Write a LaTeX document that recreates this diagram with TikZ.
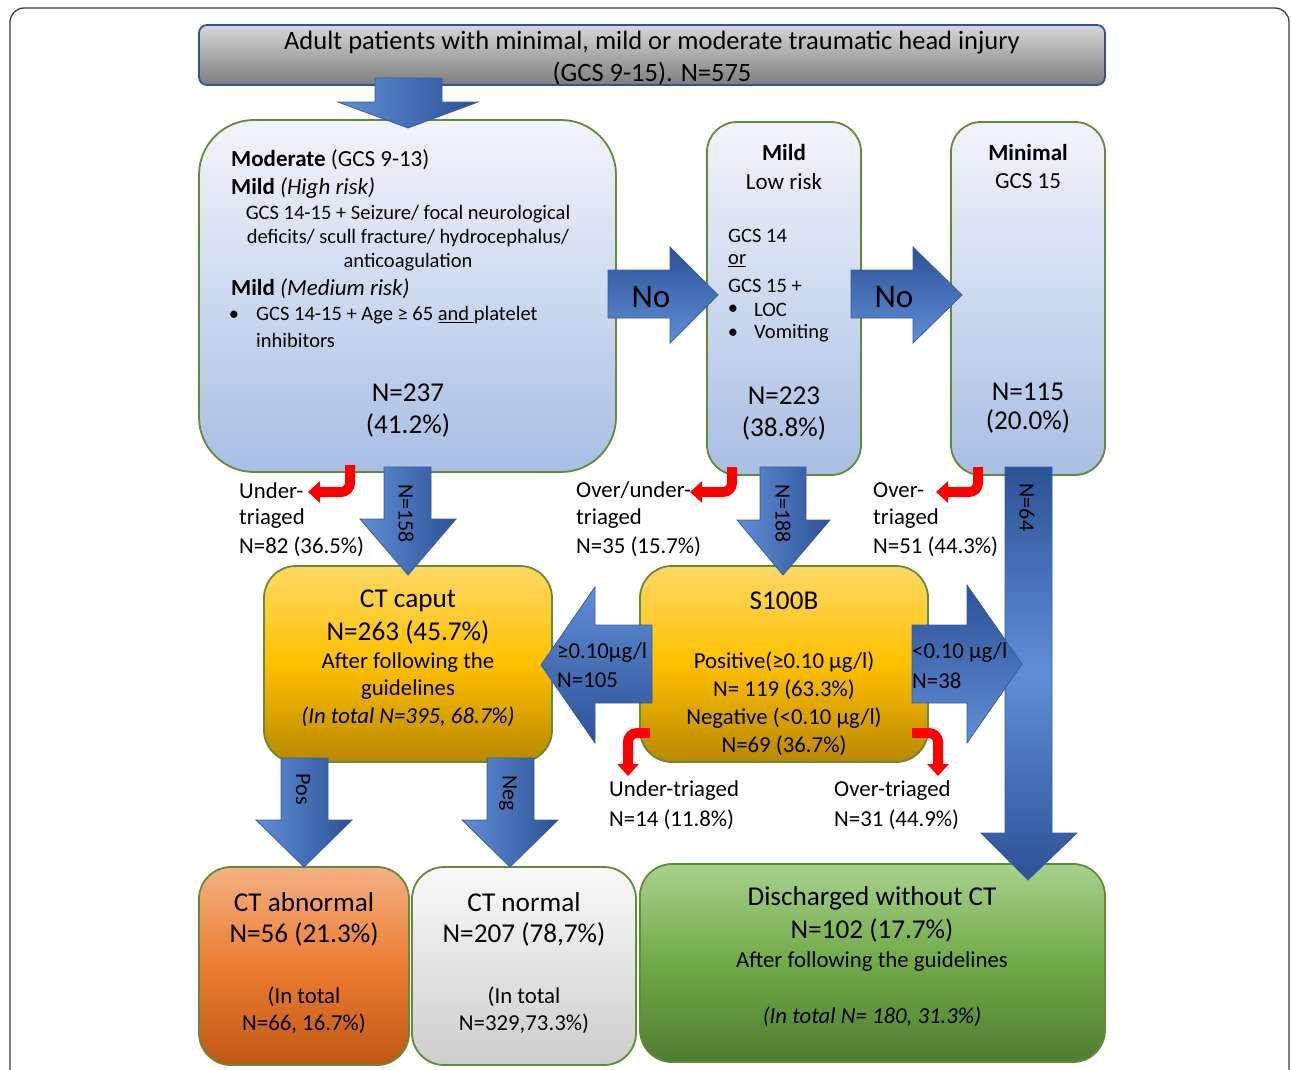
\documentclass[tikz,border=0pt]{standalone}
\usepackage{fontspec}
\setmainfont{Carlito}
\usetikzlibrary{arrows.meta}

\definecolor{frameC}{RGB}{60,60,60}
\definecolor{boxE}{RGB}{98,140,55}
\definecolor{banE}{RGB}{47,85,151}
\definecolor{banT}{RGB}{215,215,215}
\definecolor{banB}{RGB}{125,125,125}
\definecolor{bluT}{RGB}{242,245,251}
\definecolor{bluB}{RGB}{168,190,228}
\definecolor{ylwT}{RGB}{255,217,102}
\definecolor{ylwM}{RGB}{255,192,0}
\definecolor{ylwB}{RGB}{184,136,0}
\definecolor{orgT}{RGB}{244,177,131}
\definecolor{orgM}{RGB}{237,125,49}
\definecolor{orgB}{RGB}{190,88,20}
\definecolor{gryT}{RGB}{250,250,250}
\definecolor{gryB}{RGB}{205,205,205}
\definecolor{grnT}{RGB}{169,209,142}
\definecolor{grnM}{RGB}{112,170,70}
\definecolor{grnB}{RGB}{80,125,50}
\definecolor{bluL}{RGB}{96,142,214}
\definecolor{bluD}{RGB}{44,82,150}
\definecolor{bluE}{RGB}{56,94,160}
\definecolor{redA}{RGB}{255,0,0}

\newcommand{\fsBan}{\fontsize{26.5}{31}\selectfont}
\newcommand{\fsHead}{\fontsize{23}{27.5}\selectfont}
\newcommand{\fsBody}{\fontsize{20.5}{24.5}\selectfont}
\newcommand{\fsN}{\fontsize{27.2}{32}\selectfont}
\newcommand{\fsLab}{\fontsize{22.8}{27}\selectfont}
\newcommand{\fsNo}{\fontsize{33}{38}\selectfont}
\newcommand{\fsRot}{\fontsize{22}{26}\selectfont}

\begin{document}
\begin{tikzpicture}[x=1pt,y=1pt,yscale=-1,
  box/.style={draw=boxE, line width=1.8pt, inner sep=0pt},
  bluebox/.style={box, top color=bluT, bottom color=bluB},
  ylwbox/.style={box, top color=ylwT, bottom color=ylwB, middle color=ylwM},
  blkarr/.style={draw=bluE, line width=0.8pt},
  redarr/.style={draw=redA, line width=10pt, rounded corners=9pt, -{Triangle[length=12pt,width=21pt]}},
  txt/.style={inner sep=0pt}]
\useasboundingbox (0,0) rectangle (1292,1069);

%Shape: Frame
\draw [frameC, line width=1.3pt, rounded corners=14pt] (10,1100) -- (10,8) -- (1289,8) -- (1289,1100);

%Shape: Banner
\node [draw=banE, line width=1.8pt, top color=banT, bottom color=banB, rounded corners=8pt, minimum width=906pt, minimum height=60pt] (banner) at (652,55) {};

%Shape: Rounded Rectangles
\node [bluebox, rounded corners=55pt, minimum width=417pt, minimum height=352pt] (moder) at (407.5,296) {};
\node [bluebox, rounded corners=30pt, minimum width=154pt, minimum height=353pt] (mild) at (784,298.5) {};
\node [bluebox, rounded corners=30pt, minimum width=154pt, minimum height=353pt] (minim) at (1028,298.5) {};
\node [ylwbox, rounded corners=32pt, minimum width=288pt, minimum height=196pt] (ctcap) at (408,664) {};
\node [ylwbox, rounded corners=32pt, minimum width=288pt, minimum height=196pt] (sbox) at (784,664) {};
\node [box, top color=orgT, bottom color=orgB, middle color=orgM, rounded corners=32pt, minimum width=210pt, minimum height=198pt] (ctab) at (304,966) {};
\node [box, top color=gryT, bottom color=gryB, rounded corners=32pt, minimum width=224pt, minimum height=198pt] (ctno) at (524,966) {};
\node [box, top color=grnT, bottom color=grnB, middle color=grnM, rounded corners=32pt, minimum width=465pt, minimum height=198pt] (disch) at (872.5,963) {};

%Shape: Down Arrows
\draw [blkarr, left color=bluL, right color=bluD] (375,78) -- (442,78) -- (442,102) -- (478,102) -- (408,128) -- (338,102) -- (375,102) -- cycle ;
\draw [blkarr, left color=bluL, right color=bluD] (384,467) -- (431,467) -- (431,519) -- (456,519) -- (408,575) -- (360,519) -- (384,519) -- cycle ;
\draw [blkarr, left color=bluL, right color=bluD] (760,467) -- (806,467) -- (806,520) -- (830,520) -- (783,575) -- (737,520) -- (760,520) -- cycle ;
\draw [blkarr, left color=bluL, right color=bluD] (281,758) -- (328,758) -- (328,820) -- (352,820) -- (304,867) -- (256,820) -- (281,820) -- cycle ;
\draw [blkarr, left color=bluL, right color=bluD] (487,758) -- (534,758) -- (534,820) -- (558,820) -- (510,867) -- (462,820) -- (487,820) -- cycle ;
\draw [blkarr, top color=bluD, bottom color=bluD, middle color=bluL] (1005,467) -- (1052,467) -- (1052,833) -- (1077,833) -- (1028,880) -- (981,833) -- (1005,833) -- cycle ;

%Shape: Side Arrows
\draw [blkarr, top color=bluD, bottom color=bluL] (608,270) -- (670,270) -- (670,247) -- (718,295) -- (670,343) -- (670,318) -- (608,318) -- cycle ;
\draw [blkarr, top color=bluD, bottom color=bluL] (851,270) -- (913,270) -- (913,247) -- (962,295) -- (913,343) -- (913,318) -- (851,318) -- cycle ;
\draw [blkarr, top color=bluL, bottom color=bluD] (652,625) -- (595,625) -- (595,587) -- (541,665) -- (595,743) -- (595,703) -- (652,703) -- cycle ;
\draw [blkarr, top color=bluD, bottom color=bluL] (912,625) -- (967,625) -- (967,585) -- (1022,664) -- (967,743) -- (967,703) -- (912,703) -- cycle ;

%Curve Lines: red bends
\coordinate (ra1) at (350,465); \coordinate (rb1) at (308,492);
\coordinate (ra2) at (732,467); \coordinate (rb2) at (690,492);
\coordinate (ra3) at (978,467); \coordinate (rb3) at (936,492);
\coordinate (ra4) at (650,733); \coordinate (rb4) at (628,776);
\coordinate (ra5) at (912,733); \coordinate (rb5) at (938,776);
\draw [redarr] (ra1) |- (rb1);
\draw [redarr] (ra2) |- (rb2);
\draw [redarr] (ra3) |- (rb3);
\draw [redarr] (ra4) -| (rb4);
\draw [redarr] (ra5) -| (rb5);

\begin{scope}[shift={(0,1.5)}]
% Text Node
\node [txt, font=\fsBan] (ban1) at (652,41) {Adult patients with minimal, mild or moderate traumatic head injury};
\node [txt, font=\fsBan] (ban2) at (652,72) {(GCS 9-15). N=575};

% Text Node
\node [txt, anchor=west, font=\fsHead] (mod1) at (231,158) {\textbf{Moderate} (GCS 9-13)};
\node [txt, anchor=west, font=\fsHead] (mod2) at (231,187) {\textbf{Mild} \textit{(High risk)}};
\node [txt, font=\fsBody] (mod3) at (408,213) {GCS 14-15 + Seizure/ focal neurological};
\node [txt, font=\fsBody] (mod4) at (408,237) {deficits/ scull fracture/ hydrocephalus/};
\node [txt, font=\fsBody] (mod5) at (408,261) {anticoagulation};
\node [txt, anchor=west, font=\fsHead] (mod6) at (231,287) {\textbf{Mild} \textit{(Medium risk)}};
\node [txt, font=\fsBody] (mod7b) at (234,314) {\textbullet};
\node [txt, anchor=west, font=\fsBody] (mod7) at (256,314) {GCS 14-15 + Age ≥ 65 \underline{and }platelet};
\node [txt, anchor=west, font=\fsBody] (mod8) at (256,339) {inhibitors};
\node [txt, font=\fsN] (mod9) at (408,391) {N=237};
\node [txt, font=\fsN] (mod10) at (408,424) {(41.2\%)};

% Text Node
\node [txt, font=\fsHead] (mil1) at (784,151) {\textbf{Mild}};
\node [txt, font=\fsHead] (mil2) at (784,180) {Low risk};
\node [txt, anchor=west, font=\fsBody] (mil3) at (728,234) {GCS 14};
\node [txt, anchor=west, font=\fsBody] (mil4) at (728,259) {\underline{or}};
\node [txt, anchor=west, font=\fsBody] (mil5) at (728,284) {GCS 15 +};
\node [txt, font=\fsBody] (mil6b) at (733,308) {\textbullet};
\node [txt, anchor=west, font=\fsBody] (mil6) at (754,308) {LOC};
\node [txt, font=\fsBody] (mil7b) at (733,332) {\textbullet};
\node [txt, anchor=west, font=\fsBody] (mil7) at (754,332) {Vomiting};
\node [txt, font=\fsN] (mil8) at (784,394) {N=223};
\node [txt, font=\fsN] (mil9) at (784,427) {(38.8\%)};

% Text Node
\node [txt, font=\fsHead] (min1) at (1028,151) {\textbf{Minimal}};
\node [txt, font=\fsHead] (min2) at (1028,180) {GCS 15};
\node [txt, font=\fsN] (min3) at (1028,390) {N=115};
\node [txt, font=\fsN] (min4) at (1028,420) {(20.0\%)};

% Text Node
\node [txt, font=\fsNo] (no1) at (651,296) {No};
\node [txt, font=\fsNo] (no2) at (894,296) {No};

% Text Node
\node [txt, font=\fsRot, rotate=-90] (n158) at (406,512) {N=158};
\node [txt, font=\fsRot, rotate=-90] (n188) at (783,512) {N=188};
\node [txt, font=\fsRot, rotate=-90] (n64) at (1027,506) {N=64};
\node [txt, font=\fsRot, rotate=-90] (pos) at (303,788) {Pos};
\node [txt, font=\fsRot, rotate=-90] (neg) at (508,792) {Neg};

% Text Node
\node [txt, anchor=west, font=\fsLab] (ut1) at (239,489) {Under-};
\node [txt, anchor=west, font=\fsLab] (ut2) at (239,517) {triaged};
\node [txt, anchor=west, font=\fsLab] (ut3) at (239,545) {N=82 (36.5\%)};
\node [txt, anchor=west, font=\fsLab] (ou1) at (576,489) {Over/under-};
\node [txt, anchor=west, font=\fsLab] (ou2) at (576,517) {triaged};
\node [txt, anchor=west, font=\fsLab] (ou3) at (576,545) {N=35 (15.7\%)};
\node [txt, anchor=west, font=\fsLab] (ot1) at (873,489) {Over-};
\node [txt, anchor=west, font=\fsLab] (ot2) at (873,517) {triaged};
\node [txt, anchor=west, font=\fsLab] (ot3) at (873,545) {N=51 (44.3\%)};

% Text Node
\node [txt, font=\fsN] (cc1) at (408,599) {CT caput};
\node [txt, font=\fsN] (cc2) at (408,631) {N=263 (45.7\%)};
\node [txt, font=\fsLab] (cc3) at (408,661) {After following the};
\node [txt, font=\fsLab] (cc4) at (408,688) {guidelines};
\node [txt, font=\fsLab\itshape] (cc5) at (408,715) {(In total N=395, 68.7\%)};

% Text Node
\node [txt, font=\fsN] (sb1) at (784,599) {S100B};
\node [txt, font=\fsLab] (sb2) at (784,661) {Positive(≥0.10 µg/l)};
\node [txt, font=\fsLab] (sb3) at (784,688) {N= 119 (63.3\%)};
\node [txt, font=\fsLab] (sb4) at (784,717) {Negative (<0.10 µg/l)};
\node [txt, font=\fsLab] (sb5) at (784,744) {N=69 (36.7\%)};

% Text Node
\node [txt, anchor=west, font=\fsLab] (ge1) at (557,651) {≥0.10µg/l};
\node [txt, anchor=west, font=\fsLab] (ge2) at (557,679) {N=105};
\node [txt, anchor=west, font=\fsLab] (lt1) at (912,651) {<0.10 µg/l};
\node [txt, anchor=west, font=\fsLab] (lt2) at (912,679) {N=38};
\node [txt, anchor=west, font=\fsLab] (su1) at (609,789) {Under-triaged};
\node [txt, anchor=west, font=\fsLab] (su2) at (609,818) {N=14 (11.8\%)};
\node [txt, anchor=west, font=\fsLab] (so1) at (834,789) {Over-triaged};
\node [txt, anchor=west, font=\fsLab] (so2) at (834,818) {N=31 (44.9\%)};

% Text Node
\node [txt, font=\fsN] (ab1) at (304,901) {CT abnormal};
\node [txt, font=\fsN] (ab2) at (304,933) {N=56 (21.3\%)};
\node [txt, font=\fsLab] (ab3) at (304,995) {(In total};
\node [txt, font=\fsLab] (ab4) at (304,1022) {N=66, 16.7\%)};
\node [txt, font=\fsN] (nm1) at (524,901) {CT normal};
\node [txt, font=\fsN] (nm2) at (524,933) {N=207 (78,7\%)};
\node [txt, font=\fsLab] (nm3) at (524,995) {(In total};
\node [txt, font=\fsLab] (nm4) at (524,1022) {N=329,73.3\%)};

% Text Node
\node [txt, font=\fsN] (dc1) at (872,897) {Discharged without CT};
\node [txt, font=\fsN] (dc2) at (872,929) {N=102 (17.7\%)};
\node [txt, font=\fsLab] (dc3) at (872,960) {After following the guidelines};
\node [txt, font=\fsLab\itshape] (dc4) at (872,1015) {(In total N= 180, 31.3\%)};
\end{scope}

\end{tikzpicture}
\end{document}
